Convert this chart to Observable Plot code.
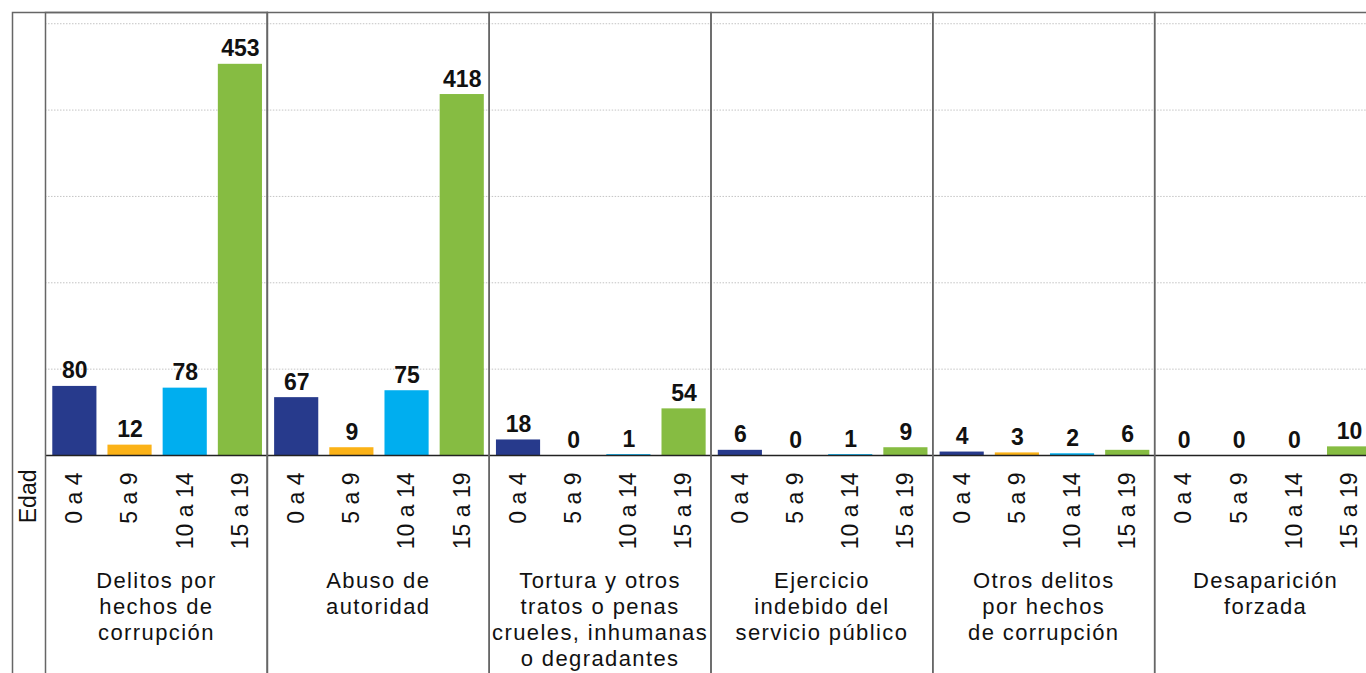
<!DOCTYPE html>
<html><head><meta charset="utf-8">
<script src="https://cdn.jsdelivr.net/npm/d3@7"></script>
<script src="https://cdn.jsdelivr.net/npm/@observablehq/plot@0.6"></script>
<style>
html,body{margin:0;padding:0;overflow:hidden;background:#fff;}
#chart{width:1366px;height:673px;overflow:hidden;}
#chart svg{max-width:none !important;}
g[aria-label="fx-axis tick label"]{letter-spacing:1.4px;}
</style></head><body><div id="chart"></div>
<script>
const categories = [
  "Delitos por\nhechos de\ncorrupción",
  "Abuso de\nautoridad",
  "Tortura y otros\ntratos o penas\ncrueles, inhumanas\no degradantes",
  "Ejercicio\nindebido del\nservicio público",
  "Otros delitos\npor hechos\nde corrupción",
  "Desaparición\nforzada"
];
const ages = ["0 a 4", "5 a 9", "10 a 14", "15 a 19"];
const delitosCorrupcion = [80, 12, 78, 453];
const abusoAutoridad = [67, 9, 75, 418];
const tortura = [18, 0, 1, 54];
const ejercicioIndebido = [6, 0, 1, 9];
const otrosDelitos = [4, 3, 2, 6];
const desaparicion = [0, 0, 0, 10];
const yTicks = [100, 200, 300, 400, 500];
const colors = ["#273a8c", "#fbb217", "#00aeef", "#86bc42"];
const axisLabel = "Edad";

const series = [delitosCorrupcion, abusoAutoridad, tortura, ejercicioIndebido, otrosDelitos, desaparicion];
const data = [];
categories.forEach((c, i) => ages.forEach((a, j) => data.push({category: c, age: a, value: series[i][j]})));

const chart = Plot.plot({
  width: 1376, height: 673,
  marginLeft: 45, marginRight: 0, marginTop: 12, marginBottom: 218,
  style: {fontFamily: "'Liberation Sans', Arial, sans-serif", background: "#fff", color: "#111"},
  fx: {domain: categories, padding: 0, round: false, label: null},
  x: {domain: ages, paddingInner: 0.2, paddingOuter: 0.11, align: 0.6, round: false, label: null},
  y: {domain: [0, 513], axis: null},
  color: {domain: ages, range: colors},
  marks: [
    Plot.ruleY(yTicks, {stroke: "#c4c4c4", strokeWidth: 1, strokeDasharray: "1.5,1.5"}),
    Plot.barY(data, {fx: "category", x: "age", y: "value", fill: "age"}),
    Plot.ruleY([0], {stroke: "#222", strokeWidth: 1.5}),
    Plot.frame({stroke: "#666", strokeWidth: 1.5, insetBottom: -240}),
    Plot.frame({fx: () => categories[0], stroke: "#666", strokeWidth: 1.5, insetLeft: -33, insetBottom: -240}),
    Plot.text(data, {fx: "category", x: "age", y: "value", text: d => String(d.value), dy: -8, lineAnchor: "bottom", fontWeight: "bold", fontSize: 23, fill: "#111"}),
    Plot.axisX({tickRotate: -90, tickSize: 0, tickPadding: 17, fontSize: 23, label: null, fill: "#111"}),
    Plot.axisFx({anchor: "bottom", tickSize: 0, tickPadding: 114, fontSize: 22, lineHeight: 1.18, label: null, fill: "#111"}),
    Plot.text([axisLabel], {fx: () => categories[0], text: d => d, frameAnchor: "bottom-left", dx: -17, dy: 14, rotate: -90, textAnchor: "end", lineAnchor: "middle", fontSize: 23, fill: "#111"})
  ]
});
document.getElementById("chart").appendChild(chart);
</script></body></html>
